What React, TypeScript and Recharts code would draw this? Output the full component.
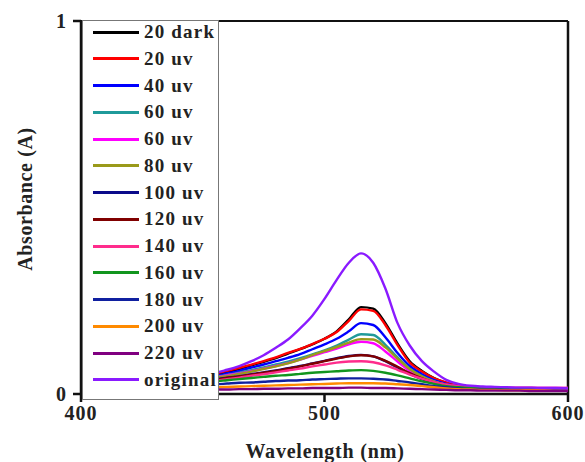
import { LineChart, Line, XAxis, YAxis, Legend, ReferenceLine } from 'recharts';

// wavelength grid (nm)
const wavelengths = [
  400, 415, 430, 445, 455, 460, 465, 470, 475, 480, 485, 490, 495, 500, 505, 510, 515,
  520, 525, 530, 535, 540, 545, 550, 555, 560, 565, 570, 575, 580, 585, 590, 595, 600,
];

// absorbance per sample
const dark20 = [0.066, 0.061, 0.057, 0.054, 0.053, 0.059, 0.067, 0.077, 0.086, 0.096, 0.108, 0.12, 0.133, 0.148, 0.168, 0.2, 0.233, 0.229, 0.19, 0.135, 0.088, 0.062, 0.043, 0.03, 0.022, 0.019, 0.017, 0.016, 0.015, 0.014, 0.014, 0.013, 0.013, 0.012];
const uv20 = [0.07, 0.064, 0.06, 0.057, 0.056, 0.062, 0.07, 0.079, 0.088, 0.098, 0.11, 0.121, 0.134, 0.148, 0.166, 0.196, 0.227, 0.223, 0.185, 0.131, 0.084, 0.06, 0.042, 0.031, 0.022, 0.019, 0.017, 0.016, 0.015, 0.015, 0.014, 0.014, 0.013, 0.013];
const uv40 = [0.062, 0.057, 0.053, 0.05, 0.049, 0.055, 0.062, 0.071, 0.079, 0.088, 0.097, 0.107, 0.12, 0.133, 0.148, 0.168, 0.19, 0.185, 0.152, 0.11, 0.075, 0.053, 0.037, 0.027, 0.021, 0.018, 0.016, 0.015, 0.014, 0.014, 0.013, 0.013, 0.012, 0.012];
const uv60a = [0.058, 0.053, 0.049, 0.047, 0.046, 0.051, 0.057, 0.064, 0.071, 0.079, 0.087, 0.096, 0.106, 0.117, 0.13, 0.146, 0.16, 0.158, 0.132, 0.098, 0.068, 0.048, 0.034, 0.025, 0.02, 0.017, 0.015, 0.014, 0.014, 0.013, 0.013, 0.012, 0.012, 0.012];
const uv60b = [0.056, 0.051, 0.048, 0.046, 0.045, 0.05, 0.055, 0.061, 0.068, 0.075, 0.083, 0.092, 0.102, 0.112, 0.122, 0.133, 0.14, 0.136, 0.114, 0.087, 0.062, 0.045, 0.033, 0.025, 0.021, 0.018, 0.017, 0.016, 0.016, 0.016, 0.016, 0.016, 0.016, 0.016];
const uv80 = [0.054, 0.05, 0.047, 0.045, 0.044, 0.048, 0.054, 0.06, 0.067, 0.074, 0.082, 0.092, 0.104, 0.115, 0.126, 0.138, 0.147, 0.146, 0.125, 0.095, 0.067, 0.047, 0.033, 0.024, 0.019, 0.016, 0.015, 0.014, 0.013, 0.013, 0.013, 0.012, 0.012, 0.012];
const uv100 = [0.05, 0.046, 0.043, 0.041, 0.04, 0.044, 0.048, 0.053, 0.058, 0.063, 0.069, 0.075, 0.082, 0.089, 0.096, 0.102, 0.105, 0.101, 0.088, 0.071, 0.054, 0.04, 0.03, 0.023, 0.019, 0.016, 0.015, 0.014, 0.013, 0.013, 0.012, 0.012, 0.012, 0.011];
const uv120 = [0.049, 0.045, 0.042, 0.04, 0.039, 0.043, 0.047, 0.052, 0.057, 0.062, 0.068, 0.074, 0.081, 0.088, 0.095, 0.101, 0.104, 0.101, 0.089, 0.073, 0.056, 0.042, 0.031, 0.024, 0.019, 0.016, 0.015, 0.014, 0.013, 0.013, 0.012, 0.012, 0.012, 0.011];
const uv140 = [0.046, 0.042, 0.039, 0.037, 0.036, 0.04, 0.044, 0.049, 0.053, 0.058, 0.063, 0.068, 0.074, 0.079, 0.084, 0.087, 0.088, 0.085, 0.077, 0.065, 0.052, 0.041, 0.032, 0.025, 0.021, 0.019, 0.018, 0.017, 0.017, 0.017, 0.017, 0.016, 0.016, 0.016];
const uv160 = [0.04, 0.037, 0.035, 0.034, 0.034, 0.037, 0.04, 0.043, 0.046, 0.049, 0.051, 0.054, 0.057, 0.059, 0.061, 0.063, 0.064, 0.062, 0.057, 0.05, 0.042, 0.034, 0.027, 0.021, 0.018, 0.016, 0.015, 0.014, 0.013, 0.013, 0.013, 0.012, 0.012, 0.012];
const uv180 = [0.03, 0.028, 0.027, 0.026, 0.026, 0.028, 0.03, 0.031, 0.033, 0.035, 0.036, 0.037, 0.039, 0.04, 0.041, 0.042, 0.042, 0.041, 0.039, 0.035, 0.031, 0.026, 0.021, 0.018, 0.015, 0.013, 0.012, 0.012, 0.011, 0.011, 0.011, 0.01, 0.01, 0.01];
const uv200 = [0.02, 0.019, 0.018, 0.018, 0.018, 0.019, 0.02, 0.021, 0.022, 0.023, 0.024, 0.025, 0.026, 0.027, 0.028, 0.029, 0.029, 0.029, 0.028, 0.026, 0.024, 0.021, 0.018, 0.015, 0.013, 0.012, 0.011, 0.011, 0.01, 0.01, 0.01, 0.01, 0.009, 0.009];
const uv220 = [0.013, 0.012, 0.012, 0.012, 0.012, 0.012, 0.013, 0.013, 0.014, 0.014, 0.015, 0.015, 0.016, 0.016, 0.016, 0.017, 0.017, 0.016, 0.016, 0.015, 0.014, 0.013, 0.012, 0.011, 0.01, 0.01, 0.009, 0.009, 0.009, 0.009, 0.008, 0.008, 0.008, 0.008];
const original = [0.092, 0.081, 0.071, 0.062, 0.058, 0.065, 0.075, 0.088, 0.104, 0.124, 0.146, 0.176, 0.21, 0.255, 0.306, 0.352, 0.377, 0.352, 0.283, 0.19, 0.13, 0.088, 0.06, 0.038, 0.027, 0.022, 0.02, 0.019, 0.018, 0.017, 0.017, 0.016, 0.016, 0.015];

const seriesNames = [
  '20 dark', '20 uv', '40 uv', '60 uv', '60 uv', '80 uv', '100 uv',
  '120 uv', '140 uv', '160 uv', '180 uv', '200 uv', '220 uv', 'original',
];
const seriesColors = [
  '#000000', '#ff0000', '#0000ff', '#1f9a9a', '#ff00ff', '#9a9a1a', '#0a0a8a',
  '#800000', '#ff2c8c', '#12951e', '#1020a0', '#ff8a00', '#800080', '#8a1aff',
];
const seriesValues = [
  dark20, uv20, uv40, uv60a, uv60b, uv80, uv100,
  uv120, uv140, uv160, uv180, uv200, uv220, original,
];

const rows = wavelengths.map((wl, i) => {
  const row: Record<string, number> = { wl };
  seriesValues.forEach((vals, k) => {
    row[`s${k}`] = vals[i];
  });
  return row;
});

const serif = '"Liberation Serif", "Times New Roman", serif';
const tickStyle = { fontFamily: serif, fontWeight: 700, fontSize: 20, fill: '#222', letterSpacing: 1 };

function SpectraLegend() {
  return (
    <div style={{ position: 'relative', width: '100%', height: '100%' }}>
      {seriesNames.map((name, i) => (
        <div
          key={i}
          style={{
            position: 'absolute',
            left: 10,
            top: i * 26.75 - 2,
            height: 26,
            display: 'flex',
            alignItems: 'center',
            whiteSpace: 'nowrap',
          }}
        >
          <span
            style={{ display: 'inline-block', width: 46, height: 3, background: seriesColors[i], marginRight: 5 }}
          />
          <span style={{ fontFamily: serif, fontWeight: 700, fontSize: 19, color: '#222', letterSpacing: 1.2 }}>
            {name}
          </span>
        </div>
      ))}
    </div>
  );
}

export default function App() {
  return (
    <div style={{ position: 'absolute', left: 0, top: 0, background: '#fff' }}>
      <LineChart width={585} height={462} data={rows} margin={{ top: 21, right: 17, left: 0, bottom: 0 }}>
        <XAxis
          dataKey="wl"
          type="number"
          domain={[400, 600]}
          ticks={[400, 500, 600]}
          height={68}
          tickSize={8}
          tickMargin={4}
          stroke="#111"
          strokeWidth={2.5}
          tick={tickStyle}
          label={() => (
            <text x={325} y={458} textAnchor="middle" style={{ ...tickStyle, letterSpacing: 0.8 }}>
              Wavelength (nm)
            </text>
          )}
        />
        <YAxis
          type="number"
          domain={[0, 1]}
          ticks={[0, 1]}
          width={81}
          tickSize={8}
          tickMargin={6}
          stroke="#111"
          strokeWidth={2.5}
          tick={tickStyle}
          label={() => (
            <text
              x={25}
              y={199}
              transform="rotate(-90 25 199)"
              textAnchor="middle"
              dominantBaseline="central"
              style={{ ...tickStyle, letterSpacing: 0.6 }}
            >
              Absorbance (A)
            </text>
          )}
        />
        <ReferenceLine y={1} stroke="#111" strokeWidth={2} />
        <ReferenceLine x={600} stroke="#111" strokeWidth={2.5} />
        {seriesNames.map((name, k) => (
          <Line
            key={k}
            dataKey={`s${k}`}
            name={name}
            type="monotone"
            stroke={seriesColors[k]}
            strokeWidth={2.4}
            dot={false}
            isAnimationActive={false}
          />
        ))}
        <Legend
          layout="vertical"
          align="center"
          verticalAlign="middle"
          content={() => <SpectraLegend />}
          wrapperStyle={{
            left: 82,
            top: 20,
            width: 137,
            height: 380,
            background: '#fff',
            border: '1px solid #777',
            boxSizing: 'border-box',
          }}
        />
      </LineChart>
    </div>
  );
}
